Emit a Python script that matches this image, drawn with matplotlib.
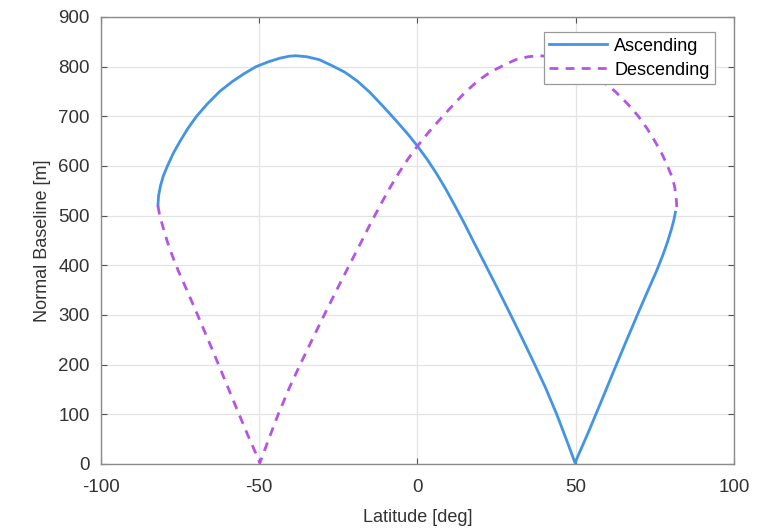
import matplotlib
matplotlib.use("Agg")
import matplotlib.pyplot as plt

plt.rcParams.update({
    "font.family": ["Liberation Sans", "DejaVu Sans"],
    "font.size": 13,
    "axes.unicode_minus": False,
})

# Ascending pass: latitude [deg] vs normal baseline [m]
asc_lat = [-82.0, -81.8, -81.2, -80.3, -79.0, -77.2, -75.0, -72.6, -69.8, -66.4,
           -62.5, -58.5, -55.0, -51.0, -47.0, -43.5, -40.5, -38.5, -35.0, -31.0,
           -27.0, -23.0, -19.0, -15.0, -11.0, -7.0, -3.0, 0.0, 3.0, 6.0,
           9.0, 12.0, 15.0, 18.0, 21.0, 25.0, 29.0, 33.0, 37.0, 40.5,
           44.0, 47.0, 49.8, 50.5, 54.0, 58.0, 62.0, 66.0, 70.0, 73.0,
           75.5, 77.5, 79.0, 80.2, 81.0, 81.5]
asc_base = [521, 540, 560, 580, 600, 625, 650, 675, 700, 725,
            750, 770, 785, 800, 810, 817, 821, 822, 820, 814,
            802, 789, 771, 748, 721, 693, 664, 640, 614, 585,
            553, 518, 482, 444, 407, 357, 306, 254, 201, 153,
            100, 50, 2, 13, 64, 125, 187, 248, 308, 352,
            388, 420, 447, 472, 491, 507]

# Descending pass
desc_lat = [-82.0, -81.5, -80.8, -80.0, -79.0, -77.5, -75.5, -73.0, -70.0, -66.0,
            -62.0, -58.0, -54.0, -50.5, -49.8, -47.0, -44.0, -40.5, -37.0, -33.0,
            -29.0, -25.0, -21.0, -18.0, -15.0, -12.0, -9.0, -6.0, -3.0, 0.0,
            3.0, 7.0, 11.0, 15.0, 19.0, 23.0, 27.0, 31.0, 35.0, 38.5,
            40.5, 43.5, 47.0, 51.0, 55.0, 58.5, 62.5, 66.4, 69.8, 72.6,
            75.0, 77.2, 79.0, 80.3, 81.2, 81.7, 82.0]
desc_base = [520, 502, 486, 468, 447, 420, 388, 352, 308, 248,
             187, 125, 64, 13, 2, 50, 100, 153, 201, 254,
             306, 357, 407, 444, 482, 518, 553, 585, 614, 640,
             664, 693, 721, 748, 771, 789, 802, 814, 820, 822,
             821, 817, 810, 800, 785, 770, 750, 725, 700, 675,
             650, 625, 600, 580, 560, 540, 510]

fig = plt.figure(figsize=(7.58, 5.29), dpi=100)
ax = fig.add_axes([0.1332, 0.1229, 0.8351, 0.8450])

ax.plot(asc_lat, asc_base, color="#4394E4", linewidth=2.0, label="Ascending")
ax.plot(desc_lat, desc_base, color="#B455E6", linewidth=2.0,
        linestyle=(0, (3.2, 2.6)), label="Descending")

ax.set_xlim(-100, 100)
ax.set_ylim(0, 900)
ax.set_xticks(range(-100, 101, 50))
ax.set_yticks(range(0, 901, 100))
ax.set_xlabel("Latitude [deg]", color="#333333", fontsize=13, labelpad=9)
ax.set_ylabel("Normal Baseline [m]", color="#333333", fontsize=13, labelpad=5)

ax.grid(True, color="#e3e3e3", linewidth=0.9)
ax.set_axisbelow(True)
ax.tick_params(direction="in", top=True, right=True, length=4,
               color="#555555", labelcolor="#333333", labelsize=13.5)
ax.tick_params(axis="x", pad=11)
ax.tick_params(axis="y", pad=8)
for side in ax.spines.values():
    side.set_color("#8a8a8a")
    side.set_linewidth(1.0)

leg = ax.legend(loc="upper right", bbox_to_anchor=(0.970, 0.966), fontsize=13,
                fancybox=False, framealpha=1, edgecolor="#999999",
                handlelength=3.2, borderpad=0.3, labelspacing=0.4,
                handletextpad=0.4, borderaxespad=0)
leg.get_frame().set_linewidth(0.9)

fig.savefig("out.png", dpi=100)
